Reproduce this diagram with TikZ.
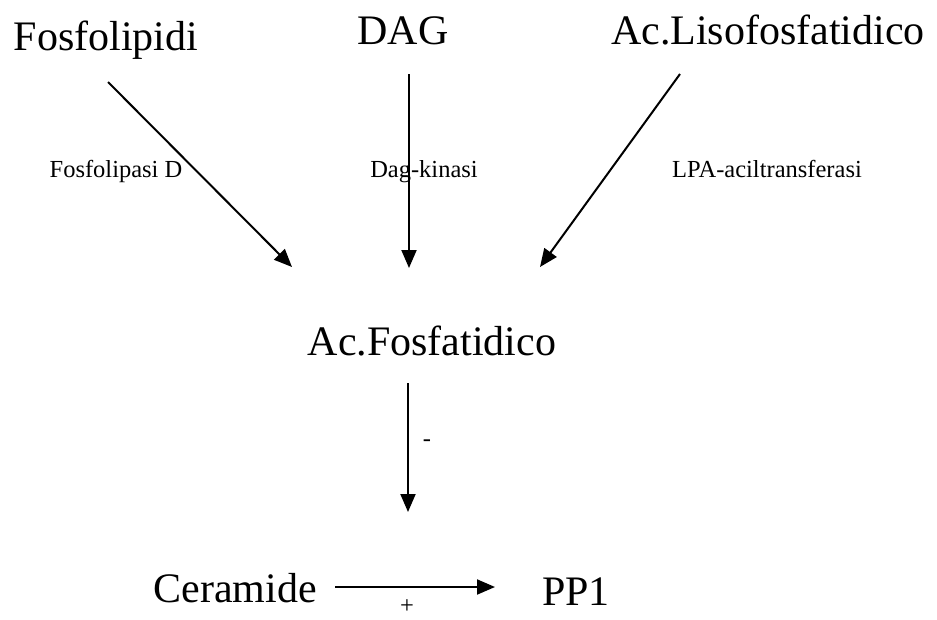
\documentclass[tikz,border=0pt]{standalone}
\usepackage{fontspec}
\setmainfont{Liberation Serif}
\usetikzlibrary{arrows.meta}
\begin{document}
\begin{tikzpicture}[x=1pt,y=-1pt,
  big/.style={font=\fontsize{42}{44}\selectfont, inner sep=0pt, anchor=base},
  small/.style={font=\fontsize{24.5}{26}\selectfont, inner sep=0pt, anchor=base},
  conn/.style={line width=2pt, -{Triangle[length=18pt,width=15pt]}}]
\useasboundingbox (0,0) rectangle (937,619);
\node[big] (fos) at (106,50) {Fosfolipidi};
\node[big] (dag) at (403,44) {DAG};
\node[big] (lpa) at (768,44) {Ac.Lisofosfatidico};
\node[big] (pa) at (432,355) {Ac.Fosfatidico};
\node[big] (cer) at (235,602) {Ceramide};
\node[big] (pp1) at (576,605) {PP1};
\node[small] (l1) at (116,177) {Fosfolipasi D};
\node[small] (l2) at (424,177) {Dag-kinasi};
\node[small] (l3) at (767,177) {LPA-aciltransferasi};
\node[small] (lm) at (427,446) {-};
\node[small] (lp) at (407,613) {+};
\coordinate (a1s) at (108,82); \coordinate (a1e) at (292,267);
\coordinate (a2s) at (409,74); \coordinate (a2e) at (409,268);
\coordinate (a3s) at (680,74); \coordinate (a3e) at (540,267);
\coordinate (a4s) at (408,383); \coordinate (a4e) at (408,512);
\coordinate (a5s) at (335,587); \coordinate (a5e) at (495,587);
\draw[conn] (a1s) -- (a1e);
\draw[conn] (a2s) -- (a2e);
\draw[conn] (a3s) -- (a3e);
\draw[conn] (a4s) -- (a4e);
\draw[conn] (a5s) -- (a5e);
\end{tikzpicture}
\end{document}
